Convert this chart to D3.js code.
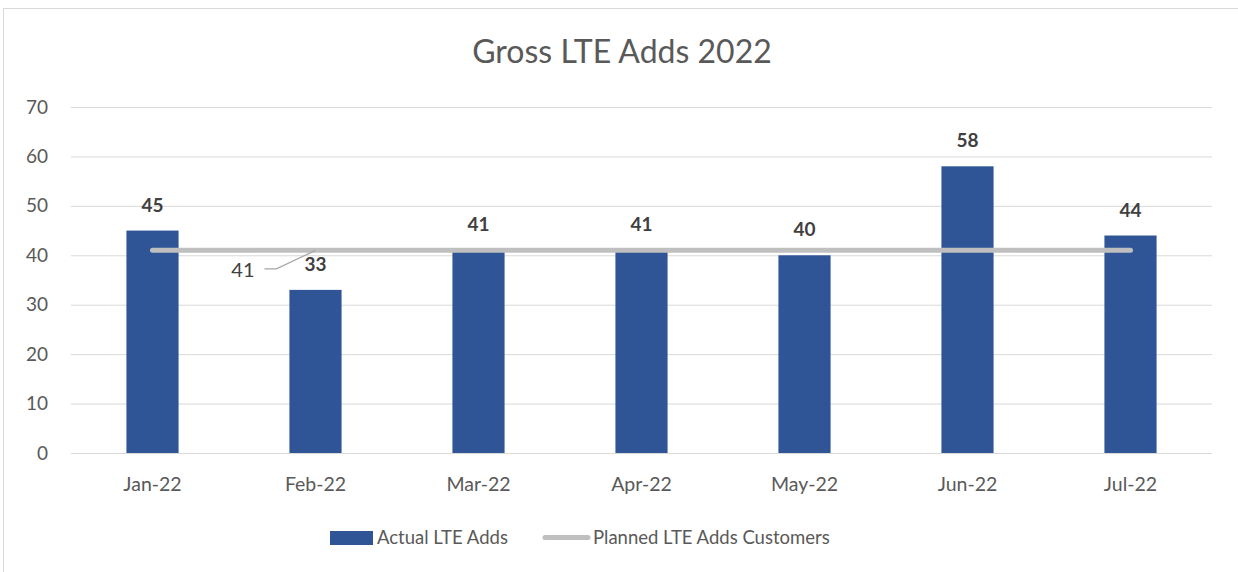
<!DOCTYPE html>
<html>
<head>
<meta charset="utf-8">
<script src="https://cdn.jsdelivr.net/npm/d3@7"></script>
<style>
  body { margin: 0; background: #fff; }
  text { font-family: "Lato", "Open Sans", sans-serif; }
</style>
</head>
<body>
<div id="chart"></div>
<script>
var months = ["Jan-22", "Feb-22", "Mar-22", "Apr-22", "May-22", "Jun-22", "Jul-22"];
var actualAdds = [45, 33, 41, 41, 40, 58, 44];
var plannedAdds = [41, 41, 41, 41, 41, 41, 41];
var yTicks = [0, 10, 20, 30, 40, 50, 60, 70];

var width = 1238, height = 572;
var margin = { top: 107, left: 71, right: 26, bottom: 119 };

var svg = d3.select("#chart").append("svg")
  .attr("width", width)
  .attr("height", height);

// chart border
svg.append("rect")
  .attr("x", 3.5).attr("y", 8.5)
  .attr("width", width + 10).attr("height", height + 10)
  .attr("fill", "none")
  .attr("stroke", "#d9d9d9");

svg.append("text")
  .attr("x", 622).attr("y", 63)
  .attr("text-anchor", "middle")
  .style("font-size", "32px")
  .attr("fill", "#595959")
  .text("Gross LTE Adds 2022");

var x = d3.scaleBand()
  .domain(months)
  .range([margin.left, width - margin.right])
  .paddingInner(0.68)
  .paddingOuter(0.34);

var y = d3.scaleLinear()
  .domain([0, 70])
  .range([height - margin.bottom, margin.top]);

// gridlines
svg.append("g")
  .selectAll("line")
  .data(yTicks)
  .enter().append("line")
  .attr("x1", margin.left)
  .attr("x2", width - margin.right)
  .attr("y1", function(d) { return y(d) + 0.5; })
  .attr("y2", function(d) { return y(d) + 0.5; })
  .attr("stroke", "#d9d9d9")
  .attr("stroke-width", 1);

var yAxis = d3.axisLeft(y).tickValues(yTicks).tickSize(0).tickPadding(0);
var gy = svg.append("g")
  .attr("transform", "translate(48,0)")
  .call(yAxis);
gy.select(".domain").remove();
gy.selectAll("text")
  .style("font-size", "19px")
  .attr("fill", "#595959");

var xAxis = d3.axisBottom(x).tickSize(0).tickPadding(0);
var gx = svg.append("g")
  .attr("transform", "translate(0," + (y(0) + 24) + ")")
  .call(xAxis);
gx.select(".domain").remove();
gx.selectAll("text")
  .style("font-size", "19.5px")
  .attr("fill", "#595959");

// bars
svg.append("g")
  .selectAll("rect")
  .data(actualAdds)
  .enter().append("rect")
  .attr("x", function(d, i) { return x(months[i]); })
  .attr("y", function(d) { return y(d); })
  .attr("width", x.bandwidth())
  .attr("height", function(d) { return y(0) - y(d); })
  .attr("fill", "#2f5597");

// planned line
var line = d3.line()
  .x(function(d, i) { return x(months[i]) + x.bandwidth() / 2; })
  .y(function(d) { return y(d); });

svg.append("path")
  .datum(plannedAdds)
  .attr("d", line)
  .attr("fill", "none")
  .attr("stroke", "#bfbfbf")
  .attr("stroke-width", 5)
  .attr("stroke-linecap", "round");

// bar labels
svg.append("g")
  .selectAll("text")
  .data(actualAdds)
  .enter().append("text")
  .attr("x", function(d, i) { return x(months[i]) + x.bandwidth() / 2; })
  .attr("y", function(d) { return y(d) - 19; })
  .attr("text-anchor", "middle")
  .style("font-size", "19px")
  .style("font-weight", "bold")
  .attr("fill", "#404040")
  .text(function(d) { return d; });

// planned label with leader line (Feb point)
var fx = x(months[1]) + x.bandwidth() / 2, fy = y(plannedAdds[1]);
svg.append("polyline")
  .attr("points", [[fx, fy], [fx - 39, fy + 18.5], [fx - 51, fy + 18.5]].join(" "))
  .attr("fill", "none")
  .attr("stroke", "#a6a6a6")
  .attr("stroke-width", 1.2);
svg.append("text")
  .attr("x", fx - 61).attr("y", fy + 26.5)
  .attr("text-anchor", "end")
  .style("font-size", "20px")
  .attr("fill", "#404040")
  .text(plannedAdds[1]);

// legend
var legend = svg.append("g");
legend.append("rect")
  .attr("x", 330).attr("y", 531)
  .attr("width", 43).attr("height", 14)
  .attr("fill", "#2f5597");
legend.append("text")
  .attr("x", 377).attr("y", 544)
  .style("font-size", "18.5px")
  .attr("fill", "#595959")
  .text("Actual LTE Adds");
legend.append("line")
  .attr("x1", 545).attr("x2", 588)
  .attr("y1", 537.5).attr("y2", 537.5)
  .attr("stroke", "#bfbfbf")
  .attr("stroke-width", 5)
  .attr("stroke-linecap", "round");
legend.append("text")
  .attr("x", 593).attr("y", 544)
  .style("font-size", "18.5px")
  .attr("fill", "#595959")
  .text("Planned LTE Adds Customers");
</script>
</body>
</html>
